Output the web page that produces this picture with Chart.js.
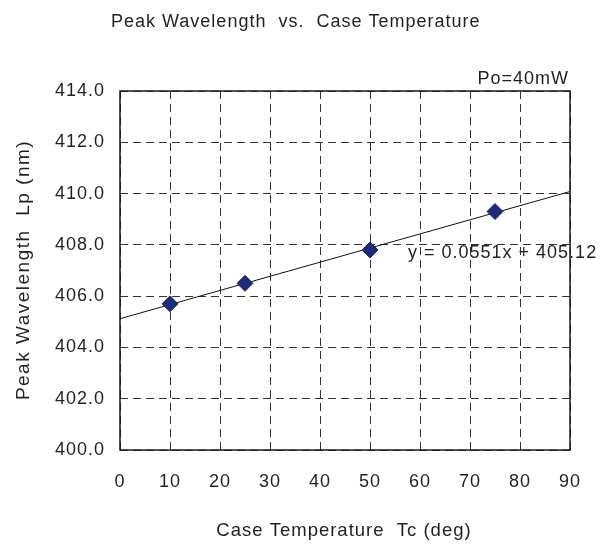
<!DOCTYPE html>
<html><head><meta charset="utf-8">
<script src="https://cdn.jsdelivr.net/npm/chart.js@4/dist/chart.umd.min.js"></script>
<style>html,body{margin:0;padding:0;background:#fff;}#wrap{width:603px;height:547px;position:relative;}</style>
</head><body><div id="wrap"><canvas id="c"></canvas></div>
<script>
const temperatures = [10, 25, 50, 75];
const wavelengths = [405.7, 406.5, 407.8, 409.3];
const trendX = [0, 90];
const trendY = [405.12, 410.08];
const xTickValues = [0, 10, 20, 30, 40, 50, 60, 70, 80, 90];
const yTickValues = [400, 402, 404, 406, 408, 410, 412, 414];
const chartTitle = 'Peak Wavelength  vs.  Case Temperature';
const xTitle = 'Case Temperature  Tc (deg)';
const yTitle = 'Peak Wavelength  Lp (nm)';
const noteText = 'Po=40mW';
const equationText = 'y = 0.0551x + 405.12';

const FONT = "'Liberation Sans', Arial, sans-serif";
const TXT = '#231f20';
Chart.defaults.font.family = FONT;

const textPlugin = {
  id: 'texts',
  beforeDraw(chart) { chart.ctx.letterSpacing = '1px'; },
  beforeDatasetsDraw(chart) {
    const {ctx, chartArea: a} = chart;
    ctx.save();
    ctx.strokeStyle = '#1a1a1a';
    ctx.lineWidth = 1.5;
    ctx.setLineDash([]);
    ctx.strokeRect(a.left, a.top, a.right - a.left, a.bottom - a.top);
    ctx.restore();
  },
  afterDraw(chart) {
    const ctx = chart.ctx;
    ctx.save();
    ctx.letterSpacing = '1px';
    ctx.fillStyle = TXT;
    ctx.font = '18px ' + FONT;
    ctx.textBaseline = 'alphabetic';
    ctx.textAlign = 'left';
    ctx.fillText(chartTitle, 111, 27);
    ctx.textAlign = 'right';
    ctx.fillText(noteText, 569, 84);
    ctx.textAlign = 'left';
    ctx.fillText(equationText, 408, 258);
    ctx.textAlign = 'center';
    ctx.font = '18.5px ' + FONT;
    ctx.fillText(xTitle, 344, 536);
    ctx.letterSpacing = '1.5px';
    ctx.font = '19px ' + FONT;
    ctx.translate(29, 270);
    ctx.rotate(-Math.PI / 2);
    ctx.fillText(yTitle, 0, 0);
    ctx.restore();
  }
};

new Chart(document.getElementById('c'), {
  type: 'scatter',
  data: {
    datasets: [
      {
        label: 'Measured',
        data: temperatures.map((t, i) => ({x: t, y: wavelengths[i]})),
        pointStyle: 'rectRot',
        pointRadius: 8,
        pointHoverRadius: 8,
        backgroundColor: '#1f2a78',
        borderColor: '#1f2a78',
        borderWidth: 1,
        showLine: false,
        order: 1
      },
      {
        label: 'Trend',
        data: trendX.map((t, i) => ({x: t, y: trendY[i]})),
        showLine: true,
        pointRadius: 0,
        borderColor: '#111',
        borderWidth: 1,
        fill: false,
        order: 2
      }
    ]
  },
  options: {
    responsive: true,
    maintainAspectRatio: false,
    animation: false,
    devicePixelRatio: 1,
    layout: {padding: {top: 91, right: 33, bottom: 0, left: 0}},
    plugins: {legend: {display: false}, tooltip: {enabled: false}, title: {display: false}},
    scales: {
      x: {
        type: 'linear', min: 0, max: 90,
        afterBuildTicks(axis) { axis.ticks = xTickValues.map(v => ({value: v})); },
        afterFit(axis) { axis.height = 97; },
        ticks: {color: TXT, font: {size: 18}, padding: 21, maxRotation: 0, callback: v => String(v)},
        grid: {color: '#333', lineWidth: 1, drawTicks: false},
        border: {display: false, dash: [8, 5]}
      },
      y: {
        type: 'linear', min: 400, max: 414,
        afterBuildTicks(axis) { axis.ticks = yTickValues.map(v => ({value: v})); },
        afterFit(axis) { axis.width = 120; },
        ticks: {color: TXT, font: {size: 18}, padding: 15, callback: v => Number(v).toFixed(1)},
        grid: {color: '#333', lineWidth: 1, drawTicks: false},
        border: {display: false, dash: [8, 5]}
      }
    }
  },
  plugins: [textPlugin]
});
</script></body></html>
